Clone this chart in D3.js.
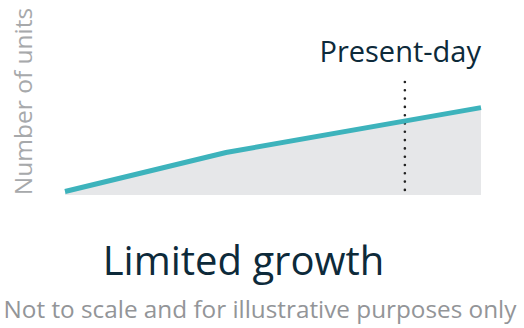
<!DOCTYPE html>
<html>
<head>
<meta charset="utf-8">
<script src="https://cdn.jsdelivr.net/npm/d3@7"></script>
<style>
  html, body { margin: 0; padding: 0; background: #fff; }
  text { font-family: "Open Sans", sans-serif; }
</style>
</head>
<body>
<svg id="chart" width="524" height="328"></svg>
<script>
// illustrative series: time (0-10) vs number of units (0-100)
const times = [0, 3.87, 10];
const units = [3, 37, 76];
const presentDay = 8.17;
const titleText = 'Limited growth';
const markerText = 'Present-day';
const yLabelText = 'Number of units';
const noteText = 'Not to scale and for illustrative purposes only';

const svg = d3.select('#chart');
const x = d3.scaleLinear().domain([0, 10]).range([65, 481]);
const y = d3.scaleLinear().domain([0, 100]).range([195, 80]);

const pts = times.map((t, i) => ({ t: t, v: units[i] }));

svg.append('path')
    .datum(pts)
    .attr('fill', '#e6e7e9')
    .attr('d', d3.area()
        .x(d => x(d.t))
        .y0(y(0))
        .y1(d => y(d.v)));

svg.append('line')
    .attr('x1', x(presentDay))
    .attr('x2', x(presentDay))
    .attr('y1', 82)
    .attr('y2', 197)
    .attr('stroke', '#222')
    .attr('stroke-width', 2.6)
    .attr('stroke-linecap', 'round')
    .attr('stroke-dasharray', '0 8.3');

svg.append('path')
    .datum(pts)
    .attr('fill', 'none')
    .attr('stroke', '#3db3bc')
    .attr('stroke-width', 5)
    .attr('d', d3.line()
        .x(d => x(d.t))
        .y(d => y(d.v)));

svg.append('text')
    .attr('x', 481)
    .attr('y', 62)
    .attr('text-anchor', 'end')
    .attr('fill', '#0d2a3a')
    .style('font-size', '29px')
    .text(markerText);

svg.append('text')
    .attr('transform', 'translate(32,101.5) rotate(-90)')
    .attr('text-anchor', 'middle')
    .attr('fill', '#a7a9ab')
    .style('font-size', '24.5px')
    .text(yLabelText);

svg.append('text')
    .attr('x', 243.5)
    .attr('y', 275)
    .attr('text-anchor', 'middle')
    .attr('fill', '#0d2a3a')
    .style('font-size', '40px')
    .text(titleText);

svg.append('text')
    .attr('x', 260)
    .attr('y', 318)
    .attr('text-anchor', 'middle')
    .attr('fill', '#939598')
    .style('font-size', '24.3px')
    .text(noteText);
</script>
</body>
</html>
